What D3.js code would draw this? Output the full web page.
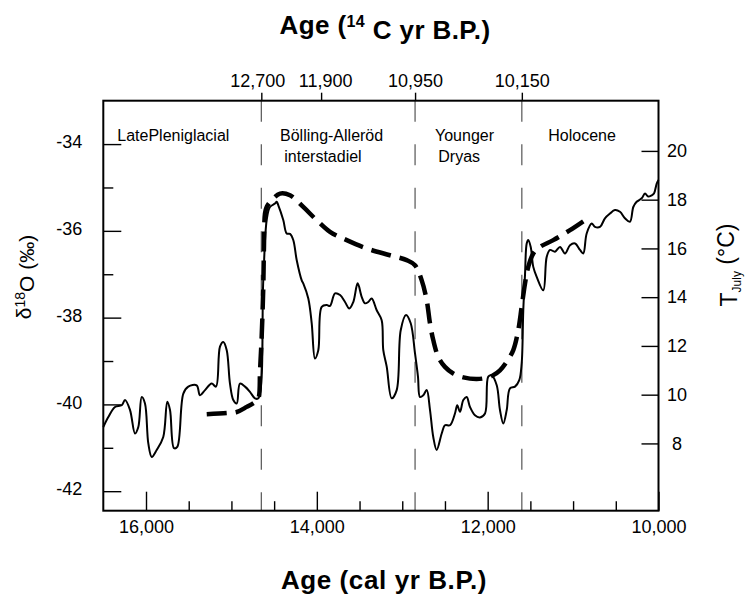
<!DOCTYPE html>
<html>
<head>
<meta charset="utf-8">
<script src="https://cdn.jsdelivr.net/npm/d3@7"></script>
<style>
  html, body { margin: 0; padding: 0; background: #fff; }
  svg { display: block; font-family: "Liberation Sans", Arial, Helvetica, sans-serif; }
</style>
</head>
<body>
<svg id="chart" width="745" height="599"></svg>
<script>
// ---------- DATA ----------
// delta 18O record (solid line, left axis), age in cal yr B.P.
const d18oAge = [16500,16441,16363,16285,16246,16187,16129,16090,16050,16012,15973,15933,15875,15798,15751,15719,15672,15634,15563,15505,15407,15368,15309,15231,15181,15134,15095,15055,15017,14978,14938,14900,14841,14783,14724,14685,
  14627,14587,14549,14490,14470,14451,14393,14353,14314,14276,14236,14177,14159,14100,14060,14022,13983,13943,13884,13846,13787,13728,13670,13620,13573,13522,13475,13436,13398,13358,13299,13241,13222,13182,13124,13065,13018,12956,12901,12851,12816,12792,12754,12714,12675,12637,12597,12538,12500,12441,12383,12356,12324,12285,12246,12207,12149,12090,12031,11993,11953,11894,11856,11817,11777,11739,11680,11630,11602,11583,11563,11543,11525,11496,11466,11426,11349,11309,11270,11212,11153,11095,11036,10977,10919,10881,10841,10782,10744,10685,10627,10568,10510,10451,10393,10334,10295,10256,10197,10158,10120,10080,10053,10021,10000];
const d18oValue = [-40.52,-40.29,-40.06,-40.02,-39.90,-40.13,-40.67,-40.52,-39.83,-39.98,-40.90,-41.21,-41.05,-40.75,-39.94,-40.13,-41.01,-40.98,-39.75,-39.59,-39.56,-39.79,-39.67,-39.52,-39.59,-38.67,-38.56,-38.75,-39.52,-39.90,-39.98,-39.52,-39.59,-39.71,-39.86,-39.86,
  -37.14,-35.75,-35.45,-35.37,-35.33,-35.41,-35.75,-36.06,-36.07,-36.21,-36.67,-37.14,-37.21,-37.56,-38.13,-38.94,-38.75,-37.75,-37.71,-37.73,-37.44,-37.48,-37.64,-37.79,-37.64,-37.21,-37.52,-37.67,-37.64,-37.56,-37.83,-38.06,-38.75,-39.13,-39.86,-39.67,-38.29,-37.94,-38.13,-38.82,-39.36,-39.83,-39.79,-39.67,-40.13,-40.75,-41.05,-40.67,-40.48,-40.48,-40.21,-40.02,-40.17,-39.90,-39.83,-40.06,-40.25,-40.30,-40.21,-39.36,-39.33,-39.56,-40.13,-40.44,-40.13,-39.63,-39.59,-39.44,-39.06,-37.83,-37.02,-36.29,-36.21,-36.37,-36.83,-37.06,-37.37,-36.60,-36.44,-36.48,-36.37,-36.52,-36.33,-36.29,-36.44,-36.52,-36.06,-35.83,-35.91,-35.91,-35.71,-35.60,-35.52,-35.56,-35.71,-35.79,-35.45,-35.33,-35.25,-35.14,-35.21,-35.18,-35.14,-34.91,-34.83];

// reconstructed July temperature (dashed line, right axis)
const tempAge = [15289,15055,14938,14821,14724,14685,14665,14646,14627,14619,14607,14587,14529,14431,14314,14159,14002,13846,13650,13416,13144,12948,12851,12773,12714,12675,12637,12578,12500,12403,12285,12129,11993,11934,11856,11777,11700,11642,11602,11563,11525,11466,11388,11232,11036,10861];
const tempValue = [9.20,9.25,9.29,9.50,9.70,9.84,11.00,12.37,14.42,16.06,17.43,17.70,17.98,18.25,18.18,17.70,17.16,16.68,16.34,16.00,15.72,15.52,15.31,14.70,13.88,12.92,12.24,11.55,11.14,10.87,10.71,10.64,10.71,10.80,11.00,11.35,11.83,12.65,13.60,14.56,15.24,15.79,16.06,16.34,16.75,17.16];

// zone boundaries (cal yr B.P.) and matching radiocarbon ages on the top axis
const zoneBoundaries = [14650, 12850, 11600];
const c14TickAges = [14650, 13950, 12850, 11600];
const c14TickLabels = ["12,700", "11,900", "10,950", "10,150"];

// tick values
const calMajorTicks = [16000, 14000, 12000, 10000];
const calMinorTicks = [15500, 15000, 14500, 13500, 13000, 12500, 11500, 11000, 10500];
const d18oMajorTicks = [-42, -40, -38, -36, -34];
const d18oMinorTicks = [-41, -39, -37, -35];
const tempTicks = [8, 10, 12, 14, 16, 18, 20];

// ---------- LAYOUT ----------
const L = 103.3, R = 658.5, T = 100.7, B = 510.7;
const svg = d3.select("#chart");

const x = d3.scaleLinear().domain([16500, 10000]).range([L, R]);
const yL = d3.scaleLinear().domain([-42.45, -33.0]).range([B, T]);
const yR = d3.scaleLinear().domain([5.24, 22.06]).range([B, T]);

const FS = 18;

// dashed zone boundaries
svg.append("g").selectAll("line").data(zoneBoundaries).join("line")
  .attr("x1", d => x(d)).attr("x2", d => x(d))
  .attr("y1", T).attr("y2", B)
  .attr("stroke", "#555").attr("stroke-width", 1.2)
  .attr("stroke-dasharray", "21,22.5");

// axes
function styleAxis(g) {
  g.select(".domain").remove();
  g.selectAll(".tick line").attr("stroke", "#000").attr("stroke-width", 1.4);
  g.selectAll(".tick text").attr("fill", "#000").style("font-size", FS + "px")
    .style("font-family", '"Liberation Sans", Arial, sans-serif');
}

// bottom (cal yr)
svg.append("g").attr("transform", `translate(0,${B})`)
  .call(d3.axisBottom(x).tickValues(calMajorTicks).tickFormat(d3.format(",")).tickSize(-19).tickPadding(9.5))
  .call(styleAxis);
svg.append("g").attr("transform", `translate(0,${B})`)
  .call(d3.axisBottom(x).tickValues(calMinorTicks).tickFormat("").tickSize(-9.5))
  .call(styleAxis);

// top (14C yr)
const topAxis = svg.append("g").attr("transform", `translate(0,${T})`)
  .call(d3.axisTop(x).tickValues(c14TickAges).tickFormat((d, i) => c14TickLabels[i]).tickSize(8).tickPadding(6))
  .call(styleAxis);
topAxis.selectAll(".tick text").attr("dx", (d, i) => i === 0 ? -4 : (i === 1 ? 4 : 0));

// left (d18O)
svg.append("g").attr("transform", `translate(${L},0)`)
  .call(d3.axisLeft(yL).tickValues(d18oMajorTicks).tickFormat(d => String(d)).tickSize(-18).tickPadding(21))
  .call(styleAxis)
  .selectAll(".tick text").attr("dy", "0.2em");
svg.append("g").attr("transform", `translate(${L},0)`)
  .call(d3.axisLeft(yL).tickValues(d18oMinorTicks).tickFormat("").tickSize(-10))
  .call(styleAxis);

// right (T July)
const rAxis = svg.append("g").attr("transform", `translate(${R},0)`)
  .call(d3.axisRight(yR).tickValues(tempTicks).tickFormat(d => String(d)).tickSize(-17).tickPadding(0))
  .call(styleAxis);
rAxis.selectAll(".tick text").attr("x", 18.5).attr("text-anchor", "middle");

// frame
svg.append("rect").attr("x", L).attr("y", T).attr("width", R - L).attr("height", B - T)
  .attr("fill", "none").attr("stroke", "#000").attr("stroke-width", 2);

// d18O line
const d18oData = d18oAge.map((a, i) => [a, d18oValue[i]]);
svg.append("path").datum(d18oData)
  .attr("fill", "none").attr("stroke", "#000").attr("stroke-width", 2)
  .attr("stroke-linejoin", "round")
  .attr("d", d3.line().x(d => x(d[0])).y(d => yL(d[1])).curve(d3.curveCatmullRom.alpha(0.5)));

// temperature line
const tempData = tempAge.map((a, i) => [a, tempValue[i]]);
svg.append("path").datum(tempData)
  .attr("fill", "none").attr("stroke", "#000").attr("stroke-width", 4.5)
  .attr("stroke-dasharray", "20,9")
  .attr("d", d3.line().x(d => x(d[0])).y(d => yR(d[1])).curve(d3.curveCatmullRom.alpha(0.5)));

// zone labels
const zoneText = svg.append("g").style("font-size", "16px").attr("fill", "#000");
zoneText.append("text").attr("x", 117.3).attr("y", 141).text("LatePleniglacial");
zoneText.append("text").attr("x", 280).attr("y", 141).text("Bölling-Alleröd");
zoneText.append("text").attr("x", 284.3).attr("y", 161.7).text("interstadiel");
zoneText.append("text").attr("x", 435).attr("y", 141).text("Younger");
zoneText.append("text").attr("x", 438.3).attr("y", 161.7).text("Dryas");
zoneText.append("text").attr("x", 548.3).attr("y", 141).text("Holocene");

// titles
const t1 = svg.append("text").attr("x", 385).attr("y", 34).attr("text-anchor", "middle")
  .style("font-size", "26px").style("font-weight", "bold").style("letter-spacing", "0.4px");
t1.append("tspan").text("Age (");
t1.append("tspan").attr("dy", "-0.45em").style("font-size", "16px").text("14");
t1.append("tspan").attr("dy", "0.45em").text(" C yr B.P.)");

svg.append("text").attr("x", 384).attr("y", 589).attr("text-anchor", "middle")
  .style("font-size", "26px").style("font-weight", "bold").style("letter-spacing", "0.6px")
  .text("Age (cal yr B.P.)");

// left axis title
const lt = svg.append("text").attr("transform", "translate(31,277) rotate(-90)")
  .attr("text-anchor", "middle").style("font-size", "21px");
lt.append("tspan").text("δ");
lt.append("tspan").attr("dy", "-0.45em").style("font-size", "14px").text("18");
lt.append("tspan").attr("dy", "0.45em").text("O (‰)");

// right axis title
const rt = svg.append("text").attr("transform", "translate(737,265) rotate(-90)")
  .attr("text-anchor", "middle").style("font-size", "23px");
rt.append("tspan").text("T");
rt.append("tspan").attr("dy", "0.3em").style("font-size", "12px").text("July");
rt.append("tspan").attr("dy", "-0.3em").text(" (°C)");
</script>
</body>
</html>
